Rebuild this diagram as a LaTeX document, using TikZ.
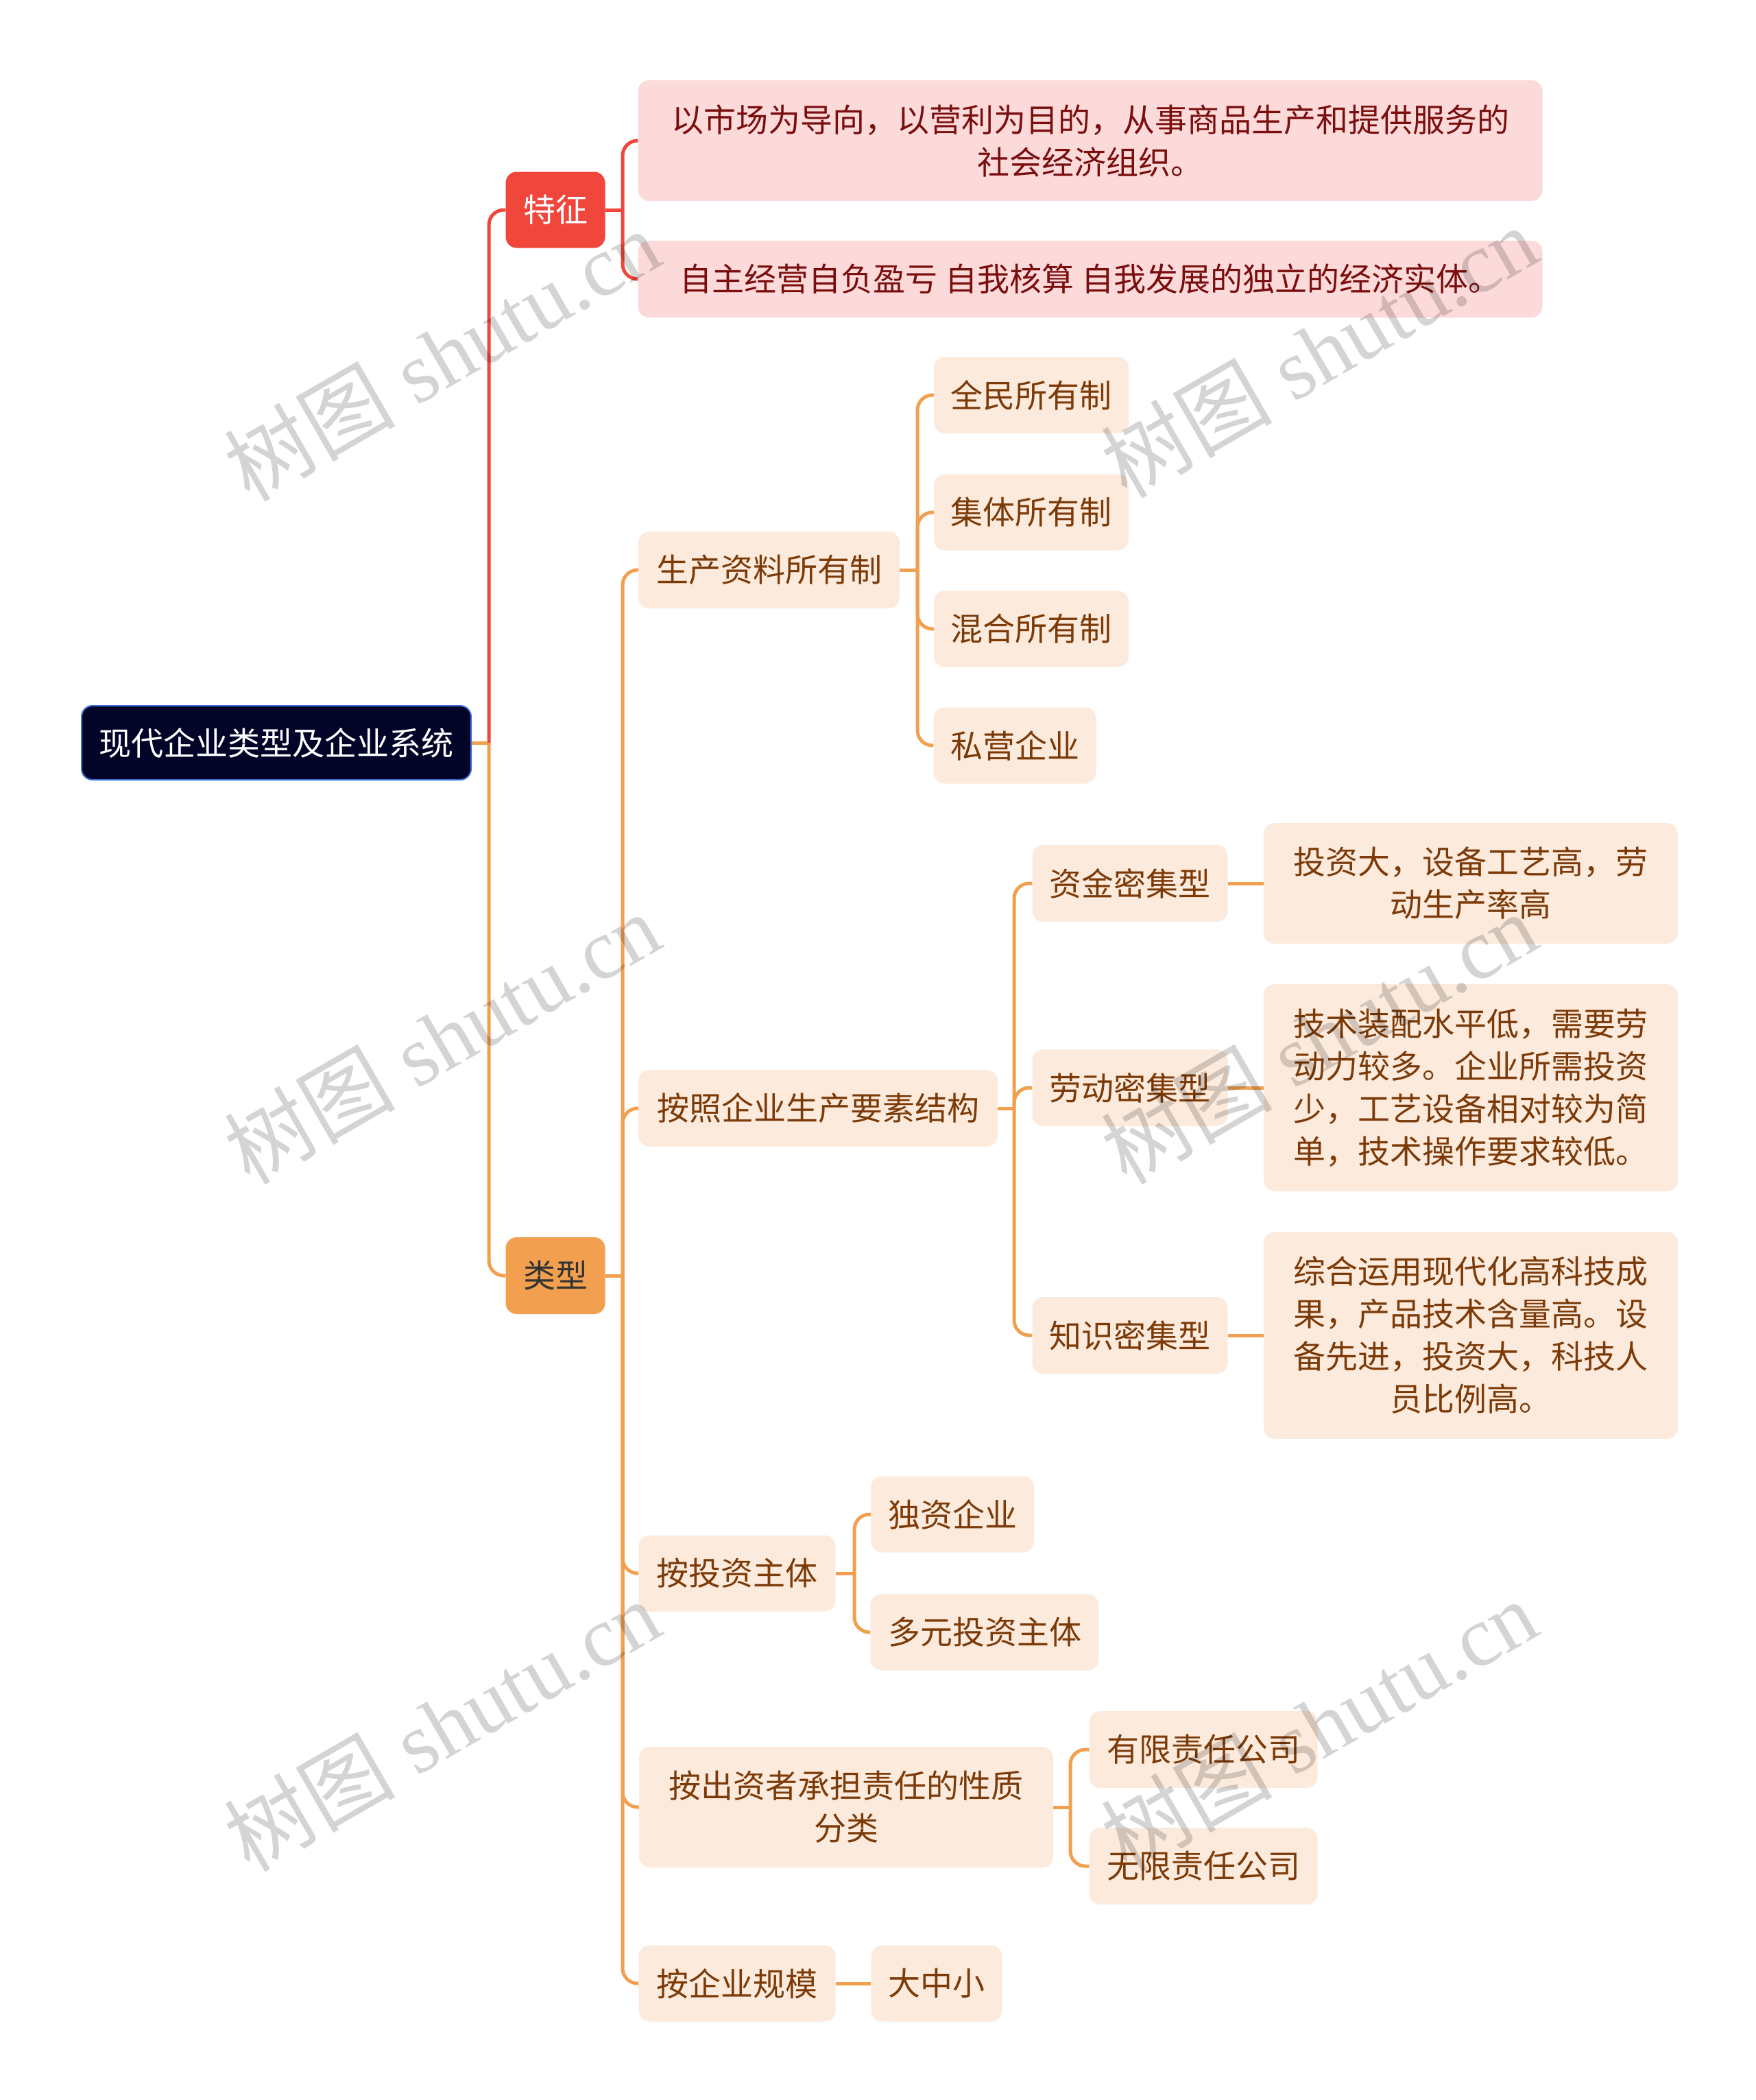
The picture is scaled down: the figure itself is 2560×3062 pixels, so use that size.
\documentclass[tikz,border=0pt]{standalone}
\usepackage{fontspec}
\setmainfont{Noto Sans CJK SC}
\newfontfamily\wmserif{Liberation Serif}
\newfontfamily\wmcjk{Noto Sans CJK SC}
\definecolor{beigeF}{RGB}{252,235,221}
\definecolor{beigeT}{RGB}{124,58,8}
\definecolor{pinkF}{RGB}{253,218,218}
\definecolor{pinkT}{RGB}{122,14,14}
\definecolor{redL}{RGB}{240,70,60}
\definecolor{orangeL}{RGB}{242,160,80}
\definecolor{rootF}{RGB}{3,5,40}
\definecolor{rootB}{RGB}{60,110,220}
\pgfdeclarelayer{bg}
\pgfsetlayers{bg,main}
\begin{document}
\begin{tikzpicture}[x=1pt,y=-1pt,
  box/.style={rounded corners=16pt, inner sep=0pt, align=center,
    font=\fontsize{47}{62}\selectfont},
  bei/.style={box, fill=beigeF, text=beigeT},
  pnk/.style={box, fill=pinkF, text=pinkT},
  ln/.style={line width=5pt, draw=orangeL, rounded corners=22pt},
  lnr/.style={line width=5pt, draw=redL, rounded corners=22pt},
  wm/.style={rotate=30, text=black, text opacity=0.17,
    font=\fontsize{125}{130}\selectfont}
]
\useasboundingbox (0,0) rectangle (2560,3062);

% root and main branches
\node[box, fill=rootF, draw=rootB, line width=2pt, text=white,
  minimum width=568pt, minimum height=108pt] (root) at (403,1083) {现代企业类型及企业系统};
\node[box, fill=redL, text=white, minimum width=145pt, minimum height=111pt] (tz) at (810,306) {特征};
\node[box, fill=orangeL, text=black!80, minimum width=145pt, minimum height=112pt] (lx) at (810,1860) {类型};

% features
\node[pnk, minimum width=1319pt, minimum height=176pt] (p1) at (1590,205)
  {以市场为导向，以营利为目的，从事商品生产和提供服务的\\社会经济组织。};
\node[pnk, minimum width=1319pt, minimum height=112pt] (p2) at (1590,407)
  {自主经营自负盈亏 自我核算 自我发展的独立的经济实体。};

% types level 2
\node[bei, minimum width=381pt, minimum height=112pt] (a) at (1121.5,831) {生产资料所有制};
\node[bei, minimum width=524pt, minimum height=112pt] (b) at (1193,1616) {按照企业生产要素结构};
\node[bei, minimum width=287pt, minimum height=111pt] (c) at (1075,2294) {按投资主体};
\node[bei, minimum width=604pt, minimum height=176pt] (d) at (1234,2635) {按出资者承担责任的性质\\分类};
\node[bei, minimum width=287pt, minimum height=111pt] (e) at (1075,2892) {按企业规模};

% a children
\node[bei, minimum width=284pt, minimum height=111pt] (a1) at (1504,576) {全民所有制};
\node[bei, minimum width=284pt, minimum height=111pt] (a2) at (1504,747) {集体所有制};
\node[bei, minimum width=284pt, minimum height=111pt] (a3) at (1504,917) {混合所有制};
\node[bei, minimum width=237pt, minimum height=111pt] (a4) at (1480,1087) {私营企业};

% b children
\node[bei, minimum width=285pt, minimum height=112pt] (b1) at (1648,1288) {资金密集型};
\node[bei, minimum width=285pt, minimum height=112pt] (b2) at (1648,1586) {劳动密集型};
\node[bei, minimum width=285pt, minimum height=112pt] (b3) at (1648,1947) {知识密集型};
\node[bei, minimum width=604pt, minimum height=176pt] (b1l) at (2145,1288)
  {投资大，设备工艺高，劳\\动生产率高};
\node[bei, minimum width=604pt, minimum height=302pt] (b2l) at (2145,1586)
  {技术装配水平低，需要劳\\动力较多。企业所需投资\\少，工艺设备相对较为简\\单，技术操作要求较低。};
\node[bei, minimum width=604pt, minimum height=302pt] (b3l) at (2145,1947)
  {综合运用现代化高科技成\\果，产品技术含量高。设\\备先进，投资大，科技人\\员比例高。};

% c children
\node[bei, minimum width=238pt, minimum height=111pt] (c1) at (1389,2208) {独资企业};
\node[bei, minimum width=333pt, minimum height=111pt] (c2) at (1436,2380) {多元投资主体};

% d children
\node[bei, minimum width=333pt, minimum height=112pt] (d1) at (1755,2551) {有限责任公司};
\node[bei, minimum width=333pt, minimum height=112pt] (d2) at (1755,2721) {无限责任公司};

% e child
\node[bei, minimum width=191pt, minimum height=111pt] (e1) at (1366,2892) {大中小};

% junctions
\coordinate (jr) at (713,1083);
\coordinate (jt) at (908,306);
\coordinate (jl) at (908,1860);
\coordinate (ja) at (1338,831);
\coordinate (jb) at (1479,1616);
\coordinate (jc) at (1246,2294);
\coordinate (jd) at (1561,2635);

\begin{pgfonlayer}{bg}
\fill[white] (0,0) rectangle (2560,3062);
\draw[ln] (root.east) -- (jr);
\draw[lnr] (jr) |- (tz.west);
\draw[ln] (jr) |- (lx.west);
\draw[lnr] (tz.east) -- (jt);
\draw[lnr] (jt) |- (p1.west);
\draw[lnr] (jt) |- (p2.west);
\draw[ln] (lx.east) -- (jl);
\foreach \n in {a,b,c,d,e} {\draw[ln] (jl) |- (\n.west);}
\draw[ln] (a.east) -- (ja);
\foreach \n in {a1,a2,a3,a4} {\draw[ln] (ja) |- (\n.west);}
\draw[ln] (b.east) -- (jb);
\foreach \n in {b1,b2,b3} {\draw[ln] (jb) |- (\n.west);}
\draw[ln] (b1.east) -- (b1l.west);
\draw[ln] (b2.east) -- (b2l.west);
\draw[ln] (b3.east) -- (b3l.west);
\draw[ln] (c.east) -- (jc);
\foreach \n in {c1,c2} {\draw[ln] (jc) |- (\n.west);}
\draw[ln] (d.east) -- (jd);
\foreach \n in {d1,d2} {\draw[ln] (jd) |- (\n.west);}
\draw[ln] (e.east) -- (e1.west);
\end{pgfonlayer}

% watermarks
\foreach \i/\p in {1/{(644,517)},2/{(1923,512)},3/{(644,1513)},4/{(1923,1513)},5/{(644,2515)},6/{(1923,2515)}} {
  \node[wm] (wm\i) at \p {\wmcjk 树图\hspace{0.25em}\wmserif shutu.cn};
}
\end{tikzpicture}
\end{document}
